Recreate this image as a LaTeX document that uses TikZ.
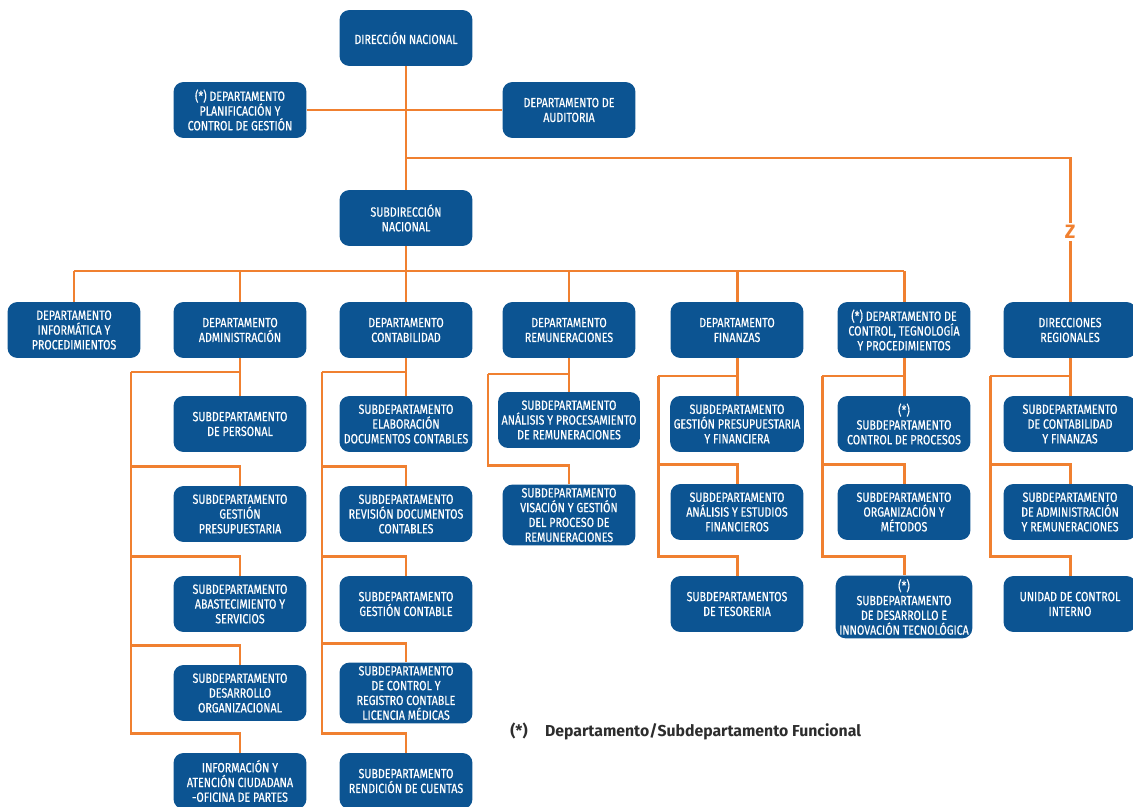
\documentclass[tikz,border=0pt]{standalone}
\usepackage{fontspec}
\setmainfont{Fira Sans}
\newfontfamily\boxfont{Fira Sans}[FakeStretch=0.8, FakeBold=0.4]
\usetikzlibrary{math}
\definecolor{myblue}{RGB}{12,84,146}
\definecolor{myorange}{RGB}{240,128,48}
\definecolor{mygray}{RGB}{45,45,45}

\tikzset{
  unit/.style={fill=myblue, text=white, rounded corners=0.2cm, minimum width=2.66cm,
    minimum height=1.12cm, inner sep=2pt, align=center, font=\boxfont\fontsize{7.6}{8.4}\selectfont},
  link/.style={draw=myorange, line width=1.7pt},
  zmark/.style={text=myorange, inner sep=1pt, font=\bfseries\fontsize{11}{11}\selectfont},
  legend/.style={text=mygray, inner sep=0pt, font=\bfseries\fontsize{9}{10}\selectfont},
}

\begin{document}
\begin{tikzpicture}[x=0.02cm, y=-0.02cm]
\tikzmath{
\yd=330;
\yb=271;
\r1=424;
\r2=514;
\r3=604;
\r4=693;
\r5=781;
}
\useasboundingbox (0,0) rectangle (1133,807);

%top:
\node[unit] (dn) at (406,38) {DIRECCIÓN NACIONAL};
\node[unit] (plan) at (240,110) {(*) DEPARTAMENTO\\PLANIFICACIÓN Y\\CONTROL DE GESTIÓN};
\node[unit] (aud) at (569,110) {DEPARTAMENTO DE\\AUDITORIA};
\node[unit] (sdn) at (406,218) {SUBDIRECCIÓN\\NACIONAL};
\node[zmark] (z) at (1070,232) {Z};

%departments:
\node[unit] (inf) at (74,\yd) {DEPARTAMENTO\\INFORMÁTICA Y\\PROCEDIMIENTOS};
\node[unit] (adm) at (240,\yd) {DEPARTAMENTO\\ADMINISTRACIÓN};
\node[unit] (cont) at (406,\yd) {DEPARTAMENTO\\CONTABILIDAD};
\node[unit] (rem) at (569,\yd) {DEPARTAMENTO\\REMUNERACIONES};
\node[unit] (fin) at (737,\yd) {DEPARTAMENTO\\FINANZAS};
\node[unit] (ctec) at (904,\yd) {(*) DEPARTAMENTO DE\\CONTROL, TEGNOLOGÍA\\Y PROCEDIMIENTOS};
\node[unit] (dr) at (1070,\yd) {DIRECCIONES\\REGIONALES};

%administracion
\node[unit] (adm1) at (240,\r1) {SUBDEPARTAMENTO\\DE PERSONAL};
\node[unit] (adm2) at (240,\r2) {SUBDEPARTAMENTO\\GESTIÓN\\PRESUPUESTARIA};
\node[unit] (adm3) at (240,\r3) {SUBDEPARTAMENTO\\ABASTECIMIENTO Y\\SERVICIOS};
\node[unit] (adm4) at (240,\r4) {SUBDEPARTAMENTO\\DESARROLLO\\ORGANIZACIONAL};
\node[unit] (adm5) at (240,\r5) {INFORMACIÓN Y\\ATENCIÓN CIUDADANA\\-OFICINA DE PARTES};

%contabilidad
\node[unit] (cont1) at (406,\r1) {SUBDEPARTAMENTO\\ELABORACIÓN\\DOCUMENTOS CONTABLES};
\node[unit] (cont2) at (406,\r2) {SUBDEPARTAMENTO\\REVISIÓN DOCUMENTOS\\CONTABLES};
\node[unit] (cont3) at (406,\r3) {SUBDEPARTAMENTO\\GESTIÓN CONTABLE};
\node[unit] (cont4) at (406,\r4) {SUBDEPARTAMENTO\\DE CONTROL Y\\REGISTRO CONTABLE\\LICENCIA MÉDICAS};
\node[unit] (cont5) at (406,\r5) {SUBDEPARTAMENTO\\RENDICIÓN DE CUENTAS};

%remuneraciones
\node[unit] (rem1) at (569,420) {SUBDEPARTAMENTO\\ANÁLISIS Y PROCESAMIENTO\\DE REMUNERACIONES};
\node[unit] (rem2) at (569,515) {SUBDEPARTAMENTO\\VISACIÓN Y GESTIÓN\\DEL PROCESO DE\\REMUNERACIONES};

%finanzas
\node[unit] (fin1) at (737,\r1) {SUBDEPARTAMENTO\\GESTIÓN PRESUPUESTARIA\\Y FINANCIERA};
\node[unit] (fin2) at (737,512) {SUBDEPARTAMENTO\\ANÁLISIS Y ESTUDIOS\\FINANCIEROS};
\node[unit] (fin3) at (737,\r3) {SUBDEPARTAMENTOS\\DE TESORERIA};

%control, tecnologia
\node[unit] (ctec1) at (904,\r1) {(*)\\SUBDEPARTAMENTO\\CONTROL DE PROCESOS};
\node[unit] (ctec2) at (904,512) {SUBDEPARTAMENTO\\ORGANIZACIÓN Y\\MÉTODOS};
\node[unit] (ctec3) at (904,607) {(*)\\SUBDEPARTAMENTO\\DE DESARROLLO E\\INNOVACIÓN TECNOLÓGICA};

%regionales
\node[unit] (dr1) at (1070,\r1) {SUBDEPARTAMENTO\\DE CONTABILIDAD\\Y FINANZAS};
\node[unit] (dr2) at (1070,512) {SUBDEPARTAMENTO\\DE ADMINISTRACIÓN\\Y REMUNERACIONES};
\node[unit] (dr3) at (1070,\r3) {UNIDAD DE CONTROL\\INTERNO};

\node[legend, anchor=west] (leg) at (510,731) {(*)\hspace{1.1em}Departamento/Subdepartamento Funcional};

%the lines:
\coordinate (jr) at (406,158);
\coordinate (bl) at (74,\yb);
\coordinate (br) at (904,\yb);
\draw[link] (dn) -- (sdn);
\draw[link] (plan) -- (aud);
\draw[link] (jr) -| (z);
\draw[link] (z) -- (dr);
\draw[link] (bl) -- (br);
\foreach \d in {inf,adm,rem,fin,ctec}
  \draw[link] (\d.north) -- (\d.north |- bl);
\draw[link] (sdn) -- (cont);

%side buses
\coordinate (adm-b) at (131,372);
\coordinate (cont-b) at (322,372);
\coordinate (rem-b) at (488,374);
\coordinate (fin-b) at (658,376);
\coordinate (ctec-b) at (822,376);
\coordinate (dr-b) at (990,376);
\foreach \d/\n in {adm/5,cont/5,rem/2,fin/3,ctec/3,dr/3}{
  \draw[link] (\d) -- (\d1);
  \draw[link] (\d-b) -- (\d-b -| \d);
  \foreach \k in {2,...,\n}
    \draw[link] (\d-b) |- ([yshift=0.38cm]\d\k.north) -- (\d\k.north);
}
\end{tikzpicture}
\end{document}
